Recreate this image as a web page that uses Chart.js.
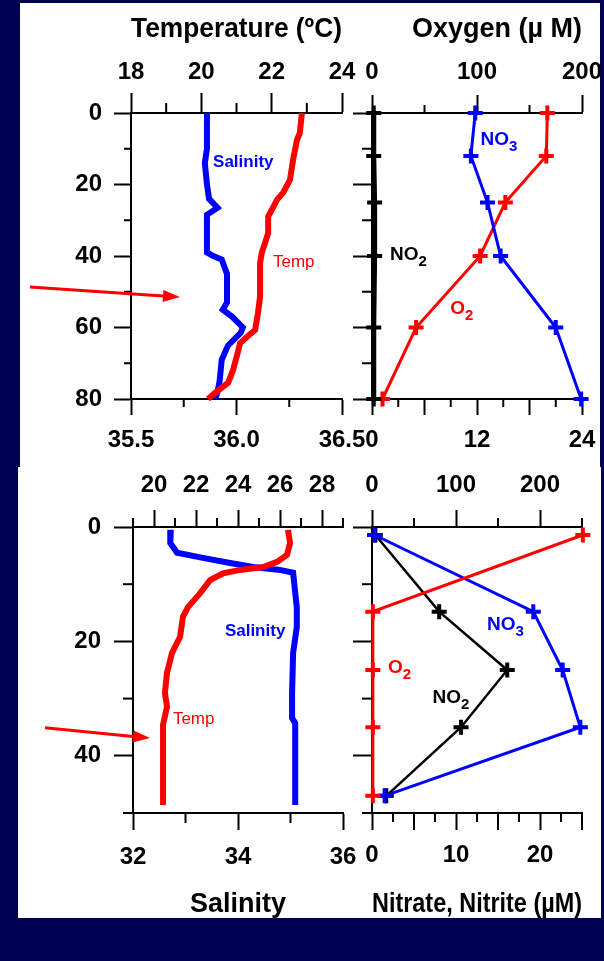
<!DOCTYPE html>
<html>
<head>
<meta charset="utf-8">
<script src="https://cdn.jsdelivr.net/npm/chart.js@4.4.1/dist/chart.umd.min.js"></script>
<style>
  body { margin: 0; background: #000050; width: 604px; height: 961px; position: relative; overflow: hidden; }
  .panel { position: absolute; background: #fff; }
  canvas { position: absolute; }
</style>
</head>
<body>
<div class="panel" style="left:20px;top:3px;width:580px;height:464px"></div>
<div class="panel" style="left:18px;top:467px;width:583px;height:451px"></div>
<canvas id="tl" width="345" height="466" style="left:20px;top:0px"></canvas>
<canvas id="tr" width="260" height="466" style="left:345px;top:0px"></canvas>
<canvas id="bl" width="347" height="451" style="left:18px;top:467px"></canvas>
<canvas id="br" width="260" height="451" style="left:345px;top:467px"></canvas>
<script>
// ---- top station: salinity / temperature profiles
const tlSalDepth = [0, 5, 10, 14, 20, 24, 26.5, 28.5, 32, 39, 40, 41, 45, 50, 53, 55, 57, 60, 61.5, 65, 69, 75, 78, 80];
const tlSalinity = [35.86, 35.86, 35.86, 35.85, 35.86, 35.87, 35.91, 35.86, 35.86, 35.86, 35.89, 35.93, 35.955, 35.955, 35.955, 35.935, 35.98, 36.03, 36.02, 35.96, 35.93, 35.92, 35.91, 35.9];
const tlTempDepth = [0, 5.6, 7.5, 13, 18.7, 22.4, 24.3, 27, 29, 33.6, 36.4, 39, 42, 51.4, 56, 60.7, 62.6, 64.4, 68, 72, 75.5, 78.3, 80];
const tlTemp = [22.86, 22.8, 22.72, 22.61, 22.52, 22.32, 22.15, 22.01, 21.9, 21.9, 21.81, 21.72, 21.67, 21.67, 21.61, 21.53, 21.3, 21.1, 21.01, 20.9, 20.76, 20.39, 20.19];

// ---- top station: bottle samples
const trDepth = [0, 12, 25, 40, 60, 80];
const trNO2 = [0.2, 0.2, 0.3, 0.3, 0.2, 0.2];
const trNO3 = [11.8, 11.3, 13.2, 14.7, 21.0, 23.9];
const trO2 = [167, 166, 127, 103, 42, 10];

// ---- bottom station: salinity / temperature profiles
const blSalDepth = [0.5, 2.8, 4.5, 5.4, 6.3, 7.0, 7.5, 8.0, 11.5, 14, 17.5, 22, 29, 33.4, 34.3, 48.6];
const blSalinity = [32.72, 32.71, 32.84, 33.33, 33.85, 34.29, 34.8, 35.05, 35.09, 35.12, 35.12, 35.05, 35.03, 35.03, 35.09, 35.09];
const blTempDepth = [0.5, 2.8, 4.9, 6.1, 7.0, 7.5, 8.1, 9.3, 11.6, 14, 15.7, 19.2, 22, 25.5, 29, 31.4, 34.6, 48.6];
const blTemp = [26.38, 26.48, 26.33, 25.86, 25.2, 24.1, 23.29, 22.67, 22.19, 21.62, 21.38, 21.24, 20.86, 20.62, 20.52, 20.62, 20.43, 20.43];

// ---- bottom station: bottle samples
const brDepth = [1.4, 14.8, 25, 35, 47];
const brO2 = [251, 1, 1, 1, 1];
const brNO3 = [0.3, 19.2, 22.7, 24.8, 1.5];
const brNO2 = [0.4, 8.0, 16.1, 10.6, 1.7];

// ---- tick labels
const tlTempTicks = [18, 20, 22, 24];
const tlSalTicks = [35.5, 36.0, 36.5];
const topDepthTicks = [0, 20, 40, 60, 80];
const trO2Ticks = [0, 100, 200];
const trNTicks = [0, 12, 24];
const blTempTicks = [20, 22, 24, 26, 28];
const blSalTicks = [32, 34, 36];
const botDepthTicks = [0, 20, 40];
const brO2Ticks = [0, 100, 200];
const brNTicks = [0, 10, 20];

const FONT = "'Liberation Sans', Arial, Helvetica, sans-serif";
const BLUE = '#0000ff', RED = '#ff0000', BLACK = '#000000';
Chart.defaults.font.family = FONT;
Chart.defaults.color = '#000';

function pts(xs, ys) { return xs.map((x, i) => ({ x: x, y: ys[i] })); }

function axis(position, min, max, tickVals, tickLen, pad, size, fmt, title) {
  const s = {
    type: 'linear', position: position, min: min, max: max,
    afterBuildTicks: sc => { sc.ticks = tickVals.map(v => ({ value: v })); },
    afterFit: sc => {
      if (sc.isHorizontal()) sc.height = size; else sc.width = size;
      // keep label overhang from shrinking the plot box
      sc.paddingLeft = sc.paddingRight = sc.paddingTop = sc.paddingBottom = 0;
    },
    border: { display: true, color: '#000', width: 2 },
    grid: { drawOnChartArea: false, drawTicks: true, tickLength: tickLen, tickWidth: 2, tickColor: '#000', color: '#000' },
    ticks: { display: fmt !== null, padding: pad, autoSkip: false, maxRotation: 0, color: '#000',
             font: { size: 24, weight: 'bold', lineHeight: 1 },
             callback: v => fmt ? fmt(v) : '' }
  };
  if (title) s.title = title;
  return s;
}

function line(data, xAxisID, color, width) {
  return { data: data, xAxisID: xAxisID, yAxisID: 'y', showLine: true, borderColor: color, borderWidth: width,
           pointRadius: 0, tension: 0, clip: false };
}
function marked(data, xAxisID, color, width) {
  return Object.assign(line(data, xAxisID, color, width), {
    pointStyle: 'cross', pointRadius: 7.5, pointBorderWidth: 4, pointBorderColor: color, pointBackgroundColor: color
  });
}

// minor ticks, in-plot labels, arrows
const axisMarks = {
  id: 'axisMarks',
  afterDraw(chart, args, opts) {
    const ctx = chart.ctx;
    ctx.save();
    ctx.strokeStyle = '#000';
    ctx.lineWidth = 2;
    (opts.ticks || []).forEach(t => {
      const s = chart.scales[t.axis];
      t.values.forEach(v => {
        const p = s.getPixelForValue(v);
        ctx.beginPath();
        if (s.isHorizontal()) {
          const y0 = s.position === 'top' ? s.bottom : s.top;
          const dir = s.position === 'top' ? -1 : 1;
          ctx.moveTo(p, y0); ctx.lineTo(p, y0 + dir * t.len);
        } else {
          ctx.moveTo(s.right, p); ctx.lineTo(s.right - t.len, p);
        }
        ctx.stroke();
      });
    });
    (opts.labels || []).forEach(l => {
      const x = chart.scales[l.axis].getPixelForValue(l.x);
      const y = chart.scales.y.getPixelForValue(l.y);
      ctx.fillStyle = l.color;
      ctx.textAlign = 'left';
      ctx.textBaseline = 'middle';
      ctx.font = l.weight + ' ' + l.size + 'px ' + FONT;
      ctx.fillText(l.text, x, y);
      if (l.sub) {
        const w = ctx.measureText(l.text).width;
        ctx.font = l.weight + ' ' + Math.round(l.size * 0.8) + 'px ' + FONT;
        ctx.fillText(l.sub, x + w, y + l.size * 0.35);
      }
    });
    (opts.arrows || []).forEach(a => {
      const xs = chart.scales[a.axis], ys = chart.scales.y;
      const x0 = xs.getPixelForValue(a.from[0]), y0 = ys.getPixelForValue(a.from[1]);
      const x1 = xs.getPixelForValue(a.to[0]), y1 = ys.getPixelForValue(a.to[1]);
      const ang = Math.atan2(y1 - y0, x1 - x0), hl = 17, hw = 6;
      const bx = x1 - hl * Math.cos(ang), by = y1 - hl * Math.sin(ang);
      ctx.strokeStyle = RED; ctx.fillStyle = RED; ctx.lineWidth = 3;
      ctx.beginPath(); ctx.moveTo(x0, y0); ctx.lineTo(bx, by); ctx.stroke();
      ctx.beginPath();
      ctx.moveTo(x1, y1);
      ctx.lineTo(bx + hw * Math.sin(ang), by - hw * Math.cos(ang));
      ctx.lineTo(bx - hw * Math.sin(ang), by + hw * Math.cos(ang));
      ctx.closePath(); ctx.fill();
    });
    ctx.restore();
  }
};

function titleOpt(text, align, padTop, padBottom) {
  return { display: true, text: text, align: align, color: '#000',
           font: { size: 27, weight: 'bold', lineHeight: 1 }, padding: { top: padTop, bottom: padBottom } };
}

function base(padRight, marks) {
  return {
    responsive: false, animation: false,
    layout: { padding: { left: 0, top: 0, right: padRight, bottom: 0 }, autoPadding: false },
    plugins: { legend: { display: false }, tooltip: { enabled: false }, axisMarks: marks }
  };
}

const num = v => String(v);

// top-left
new Chart('tl', {
  type: 'scatter',
  plugins: [axisMarks],
  data: { datasets: [
    line(pts(tlTemp, tlTempDepth), 'xT', RED, 6),
    line(pts(tlSalinity, tlSalDepth), 'xS', BLUE, 6)
  ] },
  options: Object.assign(base(23, {
    ticks: [
      { axis: 'xT', values: [19, 21, 23], len: 10 },
      { axis: 'xS', values: [35.75, 36.25], len: 8 },
      { axis: 'y', values: [10, 30, 50, 70], len: 7 }
    ],
    labels: [
      { axis: 'xS', x: 35.889, y: 13.7, text: 'Salinity', color: BLUE, size: 17, weight: 'bold' },
      { axis: 'xS', x: 36.173, y: 41.7, text: 'Temp', color: RED, size: 17, weight: 'normal' }
    ],
    arrows: [{ axis: 'xS', from: [35.021, 48.7], to: [35.732, 51.5] }]
  }), {
    scales: {
      xT: axis('top', 18, 24, tlTempTicks, 20, 9, 113, num, titleOpt('Temperature (ºC)', 'center', 16, 0)),
      xS: axis('bottom', 35.5, 36.5, tlSalTicks, 16, 13, 67, v => v.toFixed(1)),
      y: Object.assign(axis('left', 0, 80, topDepthTicks, 17, 12, 111, num), { reverse: true })
    }
  })
});

// top-right
new Chart('tr', {
  type: 'scatter',
  plugins: [axisMarks],
  data: { datasets: [
    marked(pts(trNO2, trDepth), 'xN', BLACK, 5),
    marked(pts(trNO3, trDepth), 'xN', BLUE, 3),
    marked(pts(trO2, trDepth), 'xO', RED, 3)
  ] },
  options: Object.assign(base(23, {
    ticks: [
      { axis: 'xO', values: [50, 150], len: 8 },
      { axis: 'xN', values: [6, 18], len: 16 },
      { axis: 'xN', values: [3, 9, 15, 21], len: 8 },
      { axis: 'y', values: [10, 30, 50, 70], len: 10 }
    ],
    labels: [
      { axis: 'xN', x: 12.4, y: 7.6, text: 'NO', sub: '3', color: BLUE, size: 19, weight: 'bold' },
      { axis: 'xN', x: 2.07, y: 39.7, text: 'NO', sub: '2', color: BLACK, size: 19, weight: 'bold' },
      { axis: 'xN', x: 8.95, y: 54.8, text: 'O', sub: '2', color: RED, size: 19, weight: 'bold' }
    ]
  }), {
    scales: {
      xO: axis('top', 0, 200, trO2Ticks, 18, 11, 113, num, titleOpt('Oxygen (µ M)', 'end', 16, 0)),
      xN: axis('bottom', 0, 24, trNTicks, 16, 13, 67, num),
      y: Object.assign(axis('left', 0, 80, topDepthTicks, 19, 0, 27, null), { reverse: true })
    }
  })
});

// bottom-left
new Chart('bl', {
  type: 'scatter',
  plugins: [axisMarks],
  data: { datasets: [
    line(pts(blTemp, blTempDepth), 'xT', RED, 6),
    line(pts(blSalinity, blSalDepth), 'xS', BLUE, 6)
  ] },
  options: Object.assign(base(22, {
    ticks: [
      { axis: 'xT', values: [19, 21, 23, 25, 27, 29], len: 9 },
      { axis: 'xS', values: [33, 35], len: 10 },
      { axis: 'y', values: [10, 30, 50], len: 10 }
    ],
    labels: [
      { axis: 'xS', x: 33.75, y: 18.3, text: 'Salinity', color: BLUE, size: 17, weight: 'bold' },
      { axis: 'xS', x: 32.76, y: 33.7, text: 'Temp', color: RED, size: 17, weight: 'normal' }
    ],
    arrows: [{ axis: 'xS', from: [30.324, 35.1], to: [32.324, 36.9] }]
  }), {
    scales: {
      xT: axis('top', 19, 29, blTempTicks, 17, 13, 60, num),
      xS: axis('bottom', 32, 36, blSalTicks, 17, 15, 105, num, titleOpt('Salinity', 'center', 0, 0)),
      y: Object.assign(axis('left', 0, 50, botDepthTicks, 19, 13, 115, num), { reverse: true })
    }
  })
});

// bottom-right
new Chart('br', {
  type: 'scatter',
  plugins: [axisMarks],
  data: { datasets: [
    marked(pts(brO2, brDepth), 'xO', RED, 3),
    marked(pts(brNO3, brDepth), 'xN', BLUE, 3),
    marked(pts(brNO2, brDepth), 'xN', BLACK, 2.5)
  ] },
  options: Object.assign(base(23, {
    ticks: [
      { axis: 'xO', values: [50, 150, 250], len: 9 },
      { axis: 'xN', values: [5, 15, 25], len: 17 },
      { axis: 'xN', values: [2.5, 7.5, 12.5, 17.5, 22.5], len: 9 },
      { axis: 'y', values: [10, 30, 50], len: 10 }
    ],
    labels: [
      { axis: 'xN', x: 13.7, y: 17.1, text: 'NO', sub: '3', color: BLUE, size: 19, weight: 'bold' },
      { axis: 'xN', x: 1.9, y: 24.6, text: 'O', sub: '2', color: RED, size: 19, weight: 'bold' },
      { axis: 'xN', x: 7.2, y: 29.9, text: 'NO', sub: '2', color: BLACK, size: 19, weight: 'bold' }
    ]
  }), {
    scales: {
      xO: axis('top', 0, 250, brO2Ticks, 17, 13, 60, num),
      xN: axis('bottom', 0, 25, brNTicks, 17, 13, 105, num, titleOpt('Nitrate, Nitrite (µM)', 'center', 0, 0)),
      y: Object.assign(axis('left', 0, 50, botDepthTicks, 19, 0, 27, null), { reverse: true })
    }
  })
});
</script>
</body>
</html>
